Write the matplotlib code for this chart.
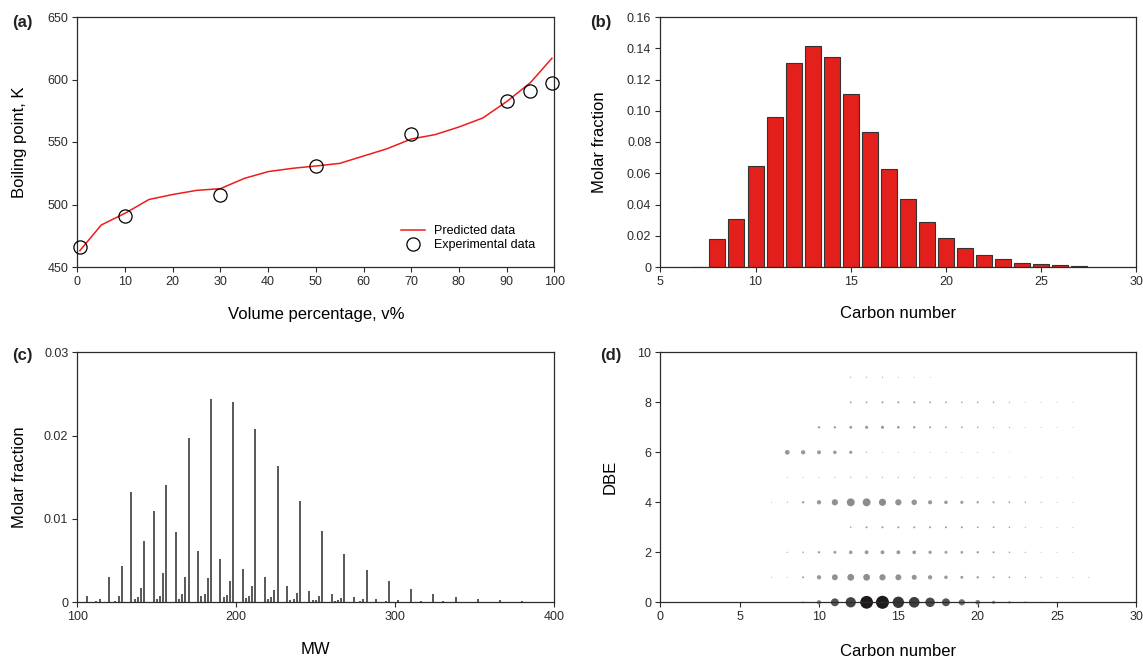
import numpy as np
import matplotlib
matplotlib.use('Agg')
import matplotlib.pyplot as plt
from matplotlib.colors import LinearSegmentedColormap, Normalize

plt.rcParams['font.family'] = ['Liberation Sans', 'DejaVu Sans']
plt.rcParams['font.size'] = 9

# ── (a) boiling point curve ──────────────────────────────
vol_pred = [0.5, 5, 10, 15, 20, 25, 30, 35, 40, 45, 50, 55, 60, 65, 70,
            75, 80, 85, 90, 95, 99.5]
bp_pred = [463, 483.6, 493, 504, 508, 511.3, 512.7, 520.9, 526.3, 528.9,
           530.8, 532.9, 538.8, 544.7, 552.4, 555.9, 562, 569.2, 582.3,
           597.5, 617]
vol_exp = [0.5, 10, 30, 50, 70, 90, 95, 99.5]
bp_exp = [465.7, 490.8, 507.3, 530.8, 556.1, 583.1, 590.8, 597.5]

# ── (b) carbon number distribution ──────────────────────
carbon = list(range(7, 28))
frac_carbon = [0.0002, 0.0181, 0.0309, 0.0646, 0.0962, 0.1308, 0.1417,
               0.1342, 0.1109, 0.0864, 0.0625, 0.0433, 0.0290, 0.0188,
               0.0122, 0.0077, 0.0049, 0.0028, 0.0017, 0.0011, 0.0004]

# ── (c) molecular weight distribution ───────────────────
mw = [106, 112, 114, 120, 124, 126, 128, 134, 136, 138, 140, 142, 148, 150,
      152, 154, 156, 162, 164, 166, 168, 170, 176, 178, 180, 182, 184, 190,
      192, 194, 196, 198, 204, 206, 208, 210, 212, 218, 220, 222, 224, 226,
      232, 234, 236, 238, 240, 246, 248, 250, 252, 254, 260, 262, 264, 266,
      268, 274, 278, 280, 282, 288, 294, 296, 302, 310, 316, 324, 330, 338,
      352, 366, 380]
frac_mw = [0.0008, 0.0002, 0.00044, 0.0030, 0.0002, 0.00076, 0.0044, 0.0132,
           0.0004, 0.0006, 0.0017, 0.0074, 0.0110, 0.0004, 0.0008, 0.0035,
           0.0141, 0.0084, 0.0004, 0.0010, 0.0030, 0.0197, 0.0062, 0.0007,
           0.0010, 0.0029, 0.0244, 0.0052, 0.0006, 0.0009, 0.0026, 0.0240,
           0.0040, 0.0005, 0.0008, 0.0020, 0.0208, 0.0030, 0.0004, 0.0006,
           0.0015, 0.0164, 0.0020, 0.0003, 0.0004, 0.0011, 0.0121, 0.0014,
           0.0003, 0.0003, 0.00076, 0.0086, 0.0010, 0.0002, 0.0003, 0.0005,
           0.0058, 0.0006, 0.0002, 0.0004, 0.0039, 0.0004, 0.0002, 0.0025,
           0.0003, 0.0016, 0.0002, 0.0010, 0.0001, 0.0006, 0.0004, 0.0003,
           0.0002]

# ── (d) relative abundance by carbon number (C7..C27) and DBE ──
dbe_levels = list(range(10))
abund = [
    [0, 0, 1.9, 11, 37, 62, 96, 100, 76, 67, 53, 37, 23, 13, 6, 3.3, 1.9, 0.8, 0.5, 0.5, 0],
    [0.5, 0.5, 2.4, 11, 21, 27, 27, 23, 21, 15, 11, 7.4, 5.2, 3.3, 2.5, 1.9, 1.2, 0.8, 0.5, 0.5, 0.5],
    [0, 0.8, 1.4, 3.3, 5, 7.4, 9, 9, 9, 8, 6.5, 5, 4.4, 3.3, 2.4, 1.4, 0.8, 0.5, 0.5, 0.5, 0],
    [0, 0, 0, 0, 0, 1.4, 2.4, 2.4, 2.4, 2.4, 2.4, 2.4, 2.4, 1.9, 1.9, 1.4, 0.8, 0.5, 0.5, 0.5, 0],
    [0.5, 0.8, 3.3, 11, 23, 37, 37, 30, 23, 18, 10, 7.4, 6, 3.3, 2.5, 1.9, 1.2, 0.8, 0.5, 0.5, 0],
    [0, 0.5, 0.5, 0.5, 0.6, 0.8, 0.8, 0.8, 0.8, 0.8, 0.6, 0.6, 0.5, 0.5, 0.5, 0.4, 0.4, 0.4, 0.3, 0.3, 0],
    [0, 13, 11, 9, 7.4, 6, 0.8, 0.5, 0.5, 0.5, 0.5, 0.5, 0.5, 0.5, 0.5, 0.3, 0, 0, 0, 0, 0],
    [0, 0, 0, 3.3, 3.3, 5, 6, 6, 4.4, 3.3, 2.4, 1.9, 1.9, 1.4, 0.8, 0.8, 0.5, 0.5, 0.4, 0.4, 0],
    [0, 0, 0, 0, 0, 1.9, 1.9, 2.4, 2.4, 2.4, 1.9, 1.9, 1.4, 1.4, 1.4, 0.8, 0.5, 0.5, 0.4, 0.4, 0],
    [0, 0, 0, 0, 0, 0.8, 0.8, 0.8, 0.5, 0.5, 0.4, 0, 0, 0, 0, 0, 0, 0, 0, 0, 0],
]

W, H = 1143, 659
DARK = '#2b2b2b'
fig = plt.figure(figsize=(W / 100, H / 100), dpi=100)


def make_axes(l, t, r, b):
    # pixel box -> figure fraction
    return fig.add_axes([l / W, 1 - b / H, (r - l) / W, (b - t) / H])


def style(ax):
    for sp in ax.spines.values():
        sp.set_color(DARK)
        sp.set_linewidth(0.9)
    ax.tick_params(direction='out', length=3.5, width=0.8, colors=DARK,
                   labelsize=9, top=False, right=False, pad=3)


def place_labels(ax, box, xlab_y, ylab_x):
    # label centres given in pixels
    l, t, r, b = box
    ax.xaxis.set_label_coords(0.5, (b - xlab_y) / (b - t))
    ax.yaxis.set_label_coords((ylab_x - l) / (r - l), 0.5)


def zero_fmt(fmt):
    return lambda v, p: '0' if abs(v) < 1e-12 else fmt.format(v)


box_a = (77.4, 17, 554.3, 267)
box_b = (660.3, 17, 1136.4, 267)
box_c = (77.3, 352.3, 554.3, 602.3)
box_d = (660.3, 352.3, 1136.4, 602.3)
ax_a = make_axes(*box_a)
ax_b = make_axes(*box_b)
ax_c = make_axes(*box_c)
ax_d = make_axes(*box_d)

# ── (a) ─────────────────────────────────────────────────
ax_a.plot(vol_pred, bp_pred, color='#ee1c1c', lw=1.1, label='Predicted data')
ax_a.plot(vol_exp, bp_exp, 'o', mfc='none', mec='black', ms=9.5, mew=0.9,
          label='Experimental data', clip_on=False, zorder=3)
ax_a.set_xlim(0, 100)
ax_a.set_ylim(450, 650)
ax_a.set_xticks(np.arange(0, 101, 10))
ax_a.set_yticks(np.arange(450, 651, 50))
ax_a.legend(loc='lower left', frameon=False, fontsize=9, handlelength=1.9,
            handletextpad=0.75, labelspacing=0.12, borderaxespad=0,
            borderpad=0,
            bbox_to_anchor=((401 - 77.4) / 476.9, (267 - 251) / 250))
ax_a.set_xlabel('Volume percentage, v%', fontsize=12, va='center')
ax_a.set_ylabel('Boiling point, K', fontsize=12, va='center')
place_labels(ax_a, box_a, 314, 20)

# ── (b) ─────────────────────────────────────────────────
ax_b.bar(carbon, frac_carbon, width=0.84, color='#e3201b', edgecolor='#333333',
         linewidth=0.8, zorder=2)
ax_b.set_xlim(5, 30)
ax_b.set_ylim(0, 0.16)
ax_b.set_xticks(np.arange(5, 31, 5))
ax_b.set_yticks(np.arange(0, 0.161, 0.02))
ax_b.yaxis.set_major_formatter(plt.FuncFormatter(zero_fmt('{:.2f}')))
ax_b.set_xlabel('Carbon number', fontsize=12, va='center')
ax_b.set_ylabel('Molar fraction', fontsize=12, va='center')
place_labels(ax_b, box_b, 314, 600)

# ── (c) ─────────────────────────────────────────────────
ax_c.vlines(mw, 0, frac_mw, color='#2e2a2a', lw=1.1)
ax_c.set_xlim(100, 400)
ax_c.set_ylim(0, 0.03)
ax_c.set_xticks([100, 200, 300, 400])
ax_c.set_yticks([0, 0.01, 0.02, 0.03])
ax_c.yaxis.set_major_formatter(plt.FuncFormatter(zero_fmt('{:.2f}')))
ax_c.set_xlabel('MW', fontsize=12, va='center')
ax_c.set_ylabel('Molar fraction', fontsize=12, va='center')
place_labels(ax_c, box_c, 650, 20)

# ── (d) ─────────────────────────────────────────────────
A = np.array(abund, dtype=float)
cc, dd = np.meshgrid(carbon, dbe_levels)
amax = A.max()
# paraffins (DBE 0) shaded dark, the other classes mid grey
cmap_paraffin = LinearSegmentedColormap.from_list(
    'paraffin', [(0, '#9a9a9a'), (0.11, '#888888'), (0.37, '#555555'),
                 (0.62, '#424242'), (0.8, '#333333'), (0.95, '#1e1a1a'),
                 (1.0, '#1e1a1a')])
cmap_other = LinearSegmentedColormap.from_list(
    'other', [(0, '#a0a0a0'), (0.3, '#8c8c8c'), (1.0, '#8a8a8a')])
for sel, cmap in [((A > 0) & (dd == 0), cmap_paraffin),
                  ((A > 0) & (dd > 0), cmap_other)]:
    ax_d.scatter(cc[sel], dd[sel], s=A[sel] / amax * 88, c=A[sel],
                 cmap=cmap, norm=Normalize(0, amax),
                 linewidths=0, clip_on=False, zorder=2)
ax_d.set_xlim(0, 30)
ax_d.set_ylim(0, 10)
ax_d.set_xticks(np.arange(0, 31, 5))
ax_d.set_yticks(np.arange(0, 11, 2))
for sp in ax_d.spines.values():
    sp.set_zorder(3)
ax_d.set_xlabel('Carbon number', fontsize=12, va='center')
ax_d.set_ylabel('DBE', fontsize=12, va='center')
place_labels(ax_d, box_d, 651.7, 610)

for ax in (ax_a, ax_b, ax_c, ax_d):
    style(ax)

# panel letters
for lbl, x, y in [('(a)', 12, 22), ('(b)', 590, 22), ('(c)', 12, 356),
                  ('(d)', 600, 356)]:
    fig.text(x / W, 1 - y / H, lbl, fontsize=12, fontweight='bold',
             color='#222222', va='center', ha='left')

fig.savefig('out.png', dpi=100)
